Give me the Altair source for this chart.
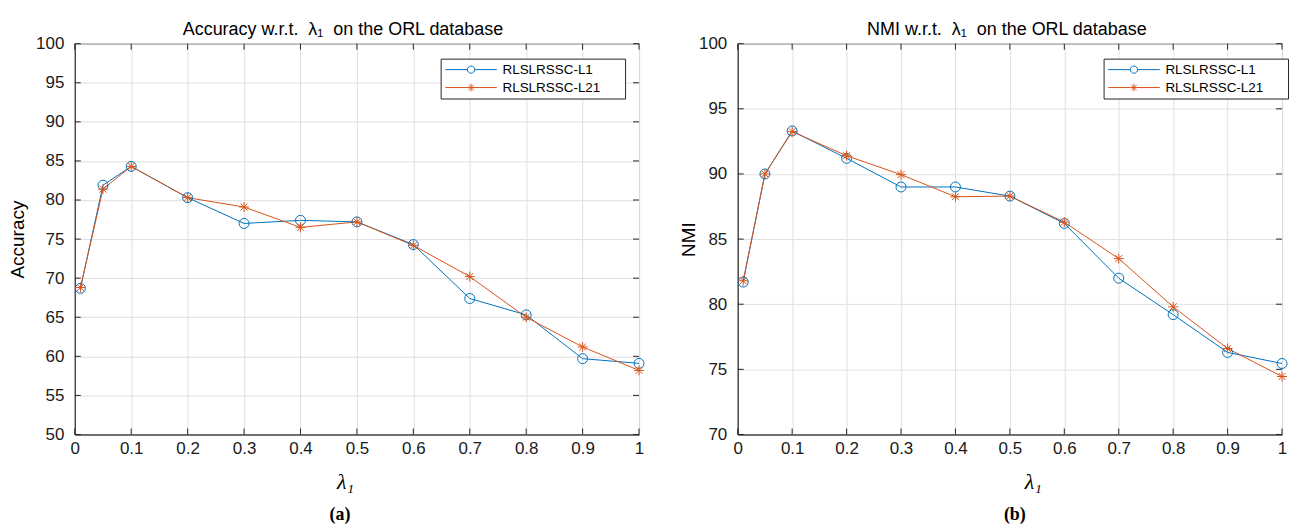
import altair as alt
import pandas as pd

# ---------------- data ----------------
lam = [0.01, 0.05, 0.1, 0.2, 0.3, 0.4, 0.5, 0.6, 0.7, 0.8, 0.9, 1.0]
series = ["RLSLRSSC-L1", "RLSLRSSC-L21"]

acc_l1 = [68.7, 81.9, 84.3, 80.3, 77.0, 77.4, 77.2, 74.3, 67.4, 65.3, 59.7, 59.1]
acc_l21 = [68.8, 81.4, 84.3, 80.3, 79.1, 76.5, 77.2, 74.2, 70.2, 65.0, 61.2, 58.2]

nmi_l1 = [81.7, 90.0, 93.3, 91.2, 89.0, 89.0, 88.3, 86.2, 82.0, 79.2, 76.3, 75.45]
nmi_l21 = [81.8, 90.0, 93.25, 91.4, 89.95, 88.25, 88.3, 86.3, 83.5, 79.8, 76.6, 74.45]

x_ticks = [0, 0.1, 0.2, 0.3, 0.4, 0.5, 0.6, 0.7, 0.8, 0.9, 1.0]
acc_ticks = [50, 55, 60, 65, 70, 75, 80, 85, 90, 95, 100]
nmi_ticks = [70, 75, 80, 85, 90, 95, 100]

# ---------------- style ----------------
H = 392
COLORS = ["#0072BD", "#D95319"]
AX = "#262626"
GRID = "#dfdfdf"
STAR = "M-1,0L1,0M0,-1L0,1M-0.7,-0.7L0.7,0.7M-0.7,0.7L0.7,-0.7"
LEG_CIRCLE = "M-1,0L-0.14,0M0.14,0L1,0M0.14,0A0.14,0.14 0 1,1 -0.14,0A0.14,0.14 0 1,1 0.14,0Z"
LEG_STAR = ("M-1,0L1,0M0,-0.15L0,0.15M-0.106,-0.106L0.106,0.106"
            "M-0.106,0.106L0.106,-0.106")
LEG_SIZE = 2673


def panel(v1, v2, ydom, yticks, ytitle, ytitle_pad, title, title_dx,
          xtitle_x, tag, tag_x, W):
    df = pd.DataFrame({
        "lam": lam + lam,
        "v": v1 + v2,
        "s": [series[0]] * len(lam) + [series[1]] * len(lam),
    })
    xsc = alt.Scale(domain=[0, 1], nice=False, zero=False)
    ysc = alt.Scale(domain=ydom, nice=False, zero=False)
    xaxis = alt.Axis(
        values=x_ticks, format="~g", title="λ₁", titleX=xtitle_x,
        titleFont="Liberation Serif", titleFontStyle="italic",
        titleFontSize=22, titleFontWeight="normal", titleColor="black",
        titlePadding=15, labelPadding=6, labelFlush=False)
    yaxis = alt.Axis(
        values=yticks, title=ytitle, titleFont="Liberation Sans",
        titleFontSize=19, titleFontWeight="normal", titleColor="black",
        titlePadding=ytitle_pad, labelPadding=11)
    cscale = alt.Scale(domain=series, range=COLORS)

    base = alt.Chart(df)
    lines = base.mark_line(strokeWidth=1).encode(
        x=alt.X("lam:Q", scale=xsc, axis=xaxis),
        y=alt.Y("v:Q", scale=ysc, axis=yaxis),
        color=alt.Color("s:N", scale=cscale, legend=None))
    points = base.mark_point(filled=False, size=100, strokeWidth=1, opacity=1).encode(
        x=alt.X("lam:Q", scale=xsc, axis=xaxis),
        y=alt.Y("v:Q", scale=ysc, axis=yaxis),
        color=alt.Color("s:N", scale=cscale, legend=None),
        shape=alt.Shape("s:N", scale=alt.Scale(domain=series, range=["circle", STAR]),
                        legend=None))
    leg_kw = dict(orient="none", legendX=367, legendY=15, title=None,
                  fillColor="white", strokeColor=AX, padding=4, rowPadding=4,
                  clipHeight=14,
                  labelFont="Liberation Sans", labelFontSize=13.5,
                  labelColor="black", labelOffset=5, symbolSize=LEG_SIZE,
                  symbolStrokeWidth=1,
                  labelExpr="datum.label + '\u2800\u2800'")
    legend_layer = base.transform_calculate(xo="-5").mark_point(
        filled=False, size=LEG_SIZE, strokeWidth=1, opacity=1, clip=True).encode(
        x=alt.X("xo:Q", scale=xsc, axis=xaxis),
        y=alt.Y("v:Q", scale=ysc, axis=yaxis),
        color=alt.Color("s:N", scale=cscale, legend=alt.Legend(**leg_kw)),
        shape=alt.Shape("s:N", scale=alt.Scale(domain=series,
                                               range=[LEG_CIRCLE, LEG_STAR]),
                        legend=alt.Legend(**leg_kw)))

    xt = pd.DataFrame({"t": x_ticks})
    yt = pd.DataFrame({"t": yticks})
    tx = alt.X("t:Q", scale=xsc, axis=xaxis)
    ty = alt.Y("t:Q", scale=ysc, axis=yaxis)
    tk = dict(color=AX, strokeWidth=1)
    t_bot = alt.Chart(xt).mark_rule(**tk).encode(x=tx, y=alt.value(H), y2=alt.value(H - 6))
    t_top = alt.Chart(xt).mark_rule(**tk).encode(x=tx, y=alt.value(0), y2=alt.value(6))
    t_left = alt.Chart(yt).mark_rule(**tk).encode(y=ty, x=alt.value(0), x2=alt.value(6))
    t_right = alt.Chart(yt).mark_rule(**tk).encode(y=ty, x=alt.value(W), x2=alt.value(W - 6))

    tag_layer = alt.Chart(pd.DataFrame({"t": [tag]})).mark_text(
        font="Liberation Serif", fontWeight="bold", fontSize=18,
        align="center", baseline="alphabetic", color="black").encode(
        x=alt.value(tag_x), y=alt.value(478), text="t:N")

    return alt.layer(
        lines, points, legend_layer, t_bot, t_top, t_left, t_right, tag_layer
    ).resolve_scale(color="independent", shape="independent").properties(
        width=W, height=H,
        title=alt.TitleParams(title, font="Liberation Sans", fontSize=18,
                              fontWeight="normal", color="black",
                              dx=title_dx, offset=-4))


left = panel(acc_l1, acc_l21, [50, 100], acc_ticks, "Accuracy", 8,
             "Accuracy w.r.t.\u00a0\u00a0λ₁\u00a0\u00a0on the ORL database", -14,
             271, "(a)", 266, 566)
right = panel(nmi_l1, nmi_l21, [70, 100], nmi_ticks, "NMI", 0,
              "NMI w.r.t.\u00a0\u00a0λ₁\u00a0\u00a0on the ORL database", -3,
              296, "(b)", 278, 546)

chart = alt.hconcat(left, right, spacing=32).properties(
    padding={"left": 0, "top": 11, "right": 0, "bottom": 0}
).configure_view(stroke=AX, strokeWidth=1).configure_axis(
    grid=True, gridColor=GRID, gridWidth=1, domain=True, domainColor=AX,
    domainWidth=1, ticks=False, labelFont="Liberation Sans", labelFontSize=17,
    labelColor="#1a1a1a"
)

chart.save("out.html", embed_options={"renderer": "svg", "actions": False})
